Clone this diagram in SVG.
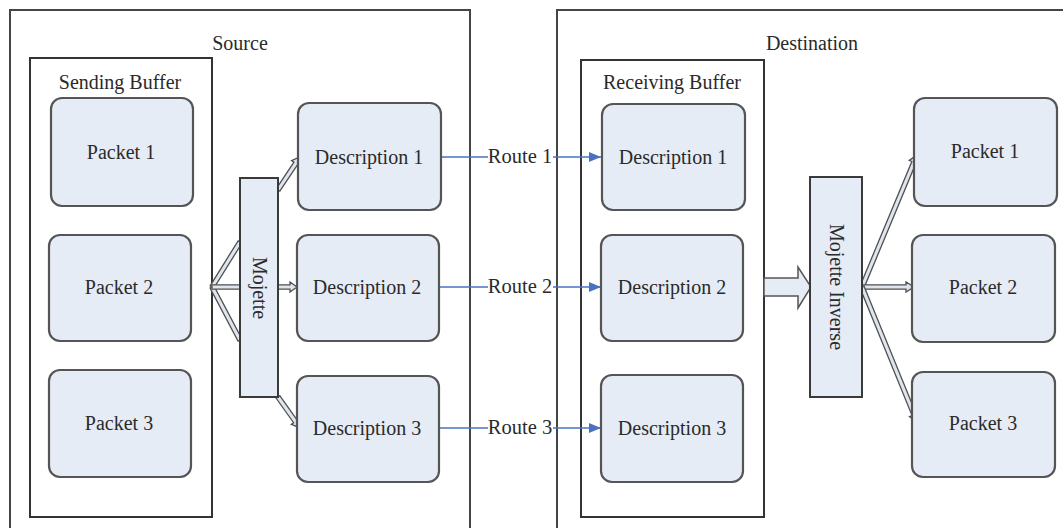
<svg xmlns="http://www.w3.org/2000/svg" width="1063" height="528" viewBox="0 0 1063 528">
  <defs>
    <style>
      .frame { fill: none; stroke: #454545; stroke-width: 2; }
      .buffer { fill: none; stroke: #333; stroke-width: 2; }
      .node { fill: #e6ecf5; stroke: #555; stroke-width: 2.2; }
      .proc { fill: #e6ecf5; stroke: #3a3a3a; stroke-width: 2; }
      .lbl { font-family: "Liberation Serif", "Times New Roman", serif; font-size: 20px; fill: #2a2a2a; text-anchor: middle; dominant-baseline: central; }
      .dbl { fill: #dfe5ee; stroke: #505050; stroke-width: 1.3; stroke-linejoin: miter; }
      .route { stroke: #4a72c0; stroke-width: 1.6; fill: none; }
      .rlbl { font-family: "Liberation Serif", "Times New Roman", serif; font-size: 20.5px; fill: #2a2a2a; text-anchor: middle; dominant-baseline: central; }
    </style>
    <marker id="blueHead" viewBox="0 0 12 10" refX="12" refY="5" markerWidth="12" markerHeight="10" markerUnits="userSpaceOnUse" orient="auto">
      <path d="M0,0 L12,5 L0,10 Z" fill="#4a72c0"/>
    </marker>
  </defs>

  <rect width="1063" height="528" fill="#ffffff"/>

  <!-- Outer frames -->
  <g id="source">
    <rect class="frame" x="10" y="10" width="460" height="530"/>
    <text class="lbl" x="240" y="43">Source</text>
  </g>
  <g id="destination">
    <rect class="frame" x="557" y="10" width="520" height="530"/>
    <text class="lbl" x="812" y="43">Destination</text>
  </g>

  <!-- Buffers -->
  <g id="sending-buffer">
    <rect class="buffer" x="30" y="58" width="182" height="459"/>
    <text class="lbl" x="120" y="82">Sending Buffer</text>
  </g>
  <g id="receiving-buffer">
    <rect class="buffer" x="581" y="60" width="183" height="457"/>
    <text class="lbl" x="672" y="82">Receiving Buffer</text>
  </g>

  <!-- Connectors -->
  <g id="connectors">
    <!-- Sending buffer to Mojette (double lines) -->
    <g transform="translate(212,287) rotate(-58.1)"><polygon class="dbl" points="0,-2.2 53,-2.2 53,2.2 0,2.2"/></g>
    <g transform="translate(212,287) rotate(62.2)"><polygon class="dbl" points="0,-2.2 60,-2.2 60,2.2 0,2.2"/></g>
    <g transform="translate(212,287)"><polygon class="dbl" points="0,-2.2 78,-2.2 78,-5 85,0 78,5 78,2.2 0,2.2"/></g>
    <!-- Mojette to Description 1 and 3 -->
    <g transform="translate(278,190) rotate(-56.3)"><polygon class="dbl" points="0,-2.2 32,-2.2 32,-5 40,0 32,5 32,2.2 0,2.2"/></g>
    <g transform="translate(278,397) rotate(54.6)"><polygon class="dbl" points="0,-2.2 30,-2.2 30,-5 38,0 30,5 30,2.2 0,2.2"/></g>

    <!-- Routes -->
    <line class="route" x1="441" y1="157" x2="601" y2="157" marker-end="url(#blueHead)"/>
    <line class="route" x1="439" y1="287" x2="601" y2="287" marker-end="url(#blueHead)"/>
    <line class="route" x1="439" y1="428" x2="601" y2="428" marker-end="url(#blueHead)"/>
    <rect x="488" y="146" width="65" height="22" fill="#ffffff"/>
    <rect x="488" y="276" width="65" height="22" fill="#ffffff"/>
    <rect x="488" y="417" width="65" height="22" fill="#ffffff"/>
    <text class="rlbl" x="520" y="156">Route 1</text>
    <text class="rlbl" x="520" y="286">Route 2</text>
    <text class="rlbl" x="520" y="427">Route 3</text>

    <!-- Receiving buffer to Mojette Inverse (big hollow arrow) -->
    <polygon class="dbl" style="fill:#e6ecf5; stroke:#555; stroke-width:1.5" points="764,278 798,278 798,267 811,287 798,308 798,296 764,296"/>

    <!-- Mojette Inverse to packets -->
    <g transform="translate(862,287) rotate(-67.4)"><polygon class="dbl" points="0,-2.2 135,-2.2 135,-5 143,0 135,5 135,2.2 0,2.2"/></g>
    <g transform="translate(862,287)"><polygon class="dbl" points="0,-2.2 44,-2.2 44,-5 52,0 44,5 44,2.2 0,2.2"/></g>
    <g transform="translate(862,287) rotate(67.8)"><polygon class="dbl" points="0,-2.2 138,-2.2 138,-5 146,0 138,5 138,2.2 0,2.2"/></g>
  </g>

  <!-- Source packets -->
  <g id="src-packet-1">
    <rect class="node" x="51" y="98" width="142" height="108" rx="11"/>
    <text class="lbl" x="121" y="152">Packet 1</text>
  </g>
  <g id="src-packet-2">
    <rect class="node" x="49" y="235" width="142" height="106" rx="11"/>
    <text class="lbl" x="119" y="287">Packet 2</text>
  </g>
  <g id="src-packet-3">
    <rect class="node" x="49" y="370" width="142" height="107" rx="11"/>
    <text class="lbl" x="119" y="423">Packet 3</text>
  </g>

  <!-- Mojette -->
  <g id="mojette">
    <rect class="proc" x="240" y="178" width="38" height="219"/>
    <text class="lbl" transform="translate(260,288) rotate(90)" x="0" y="0">Mojette</text>
  </g>

  <!-- Source descriptions -->
  <g id="src-desc-1">
    <rect class="node" x="298" y="103" width="143" height="107" rx="11"/>
    <text class="lbl" x="369" y="157">Description 1</text>
  </g>
  <g id="src-desc-2">
    <rect class="node" x="297" y="235" width="142" height="106" rx="11"/>
    <text class="lbl" x="367" y="287">Description 2</text>
  </g>
  <g id="src-desc-3">
    <rect class="node" x="297" y="376" width="142" height="106" rx="11"/>
    <text class="lbl" x="367" y="428">Description 3</text>
  </g>

  <!-- Destination descriptions -->
  <g id="dst-desc-1">
    <rect class="node" x="602" y="104" width="143" height="106" rx="11"/>
    <text class="lbl" x="673" y="157">Description 1</text>
  </g>
  <g id="dst-desc-2">
    <rect class="node" x="601" y="235" width="142" height="106" rx="11"/>
    <text class="lbl" x="672" y="287">Description 2</text>
  </g>
  <g id="dst-desc-3">
    <rect class="node" x="601" y="375" width="142" height="107" rx="11"/>
    <text class="lbl" x="672" y="428">Description 3</text>
  </g>

  <!-- Mojette Inverse -->
  <g id="mojette-inverse">
    <rect class="proc" x="810" y="177" width="52" height="220"/>
    <text class="lbl" transform="translate(837,287) rotate(90)" x="0" y="0">Mojette Inverse</text>
  </g>

  <!-- Destination packets -->
  <g id="dst-packet-1">
    <rect class="node" x="914" y="98" width="143" height="108" rx="11"/>
    <text class="lbl" x="985" y="151">Packet 1</text>
  </g>
  <g id="dst-packet-2">
    <rect class="node" x="912" y="235" width="143" height="107" rx="11"/>
    <text class="lbl" x="983" y="287">Packet 2</text>
  </g>
  <g id="dst-packet-3">
    <rect class="node" x="912" y="372" width="143" height="105" rx="11"/>
    <text class="lbl" x="983" y="423">Packet 3</text>
  </g>
</svg>
